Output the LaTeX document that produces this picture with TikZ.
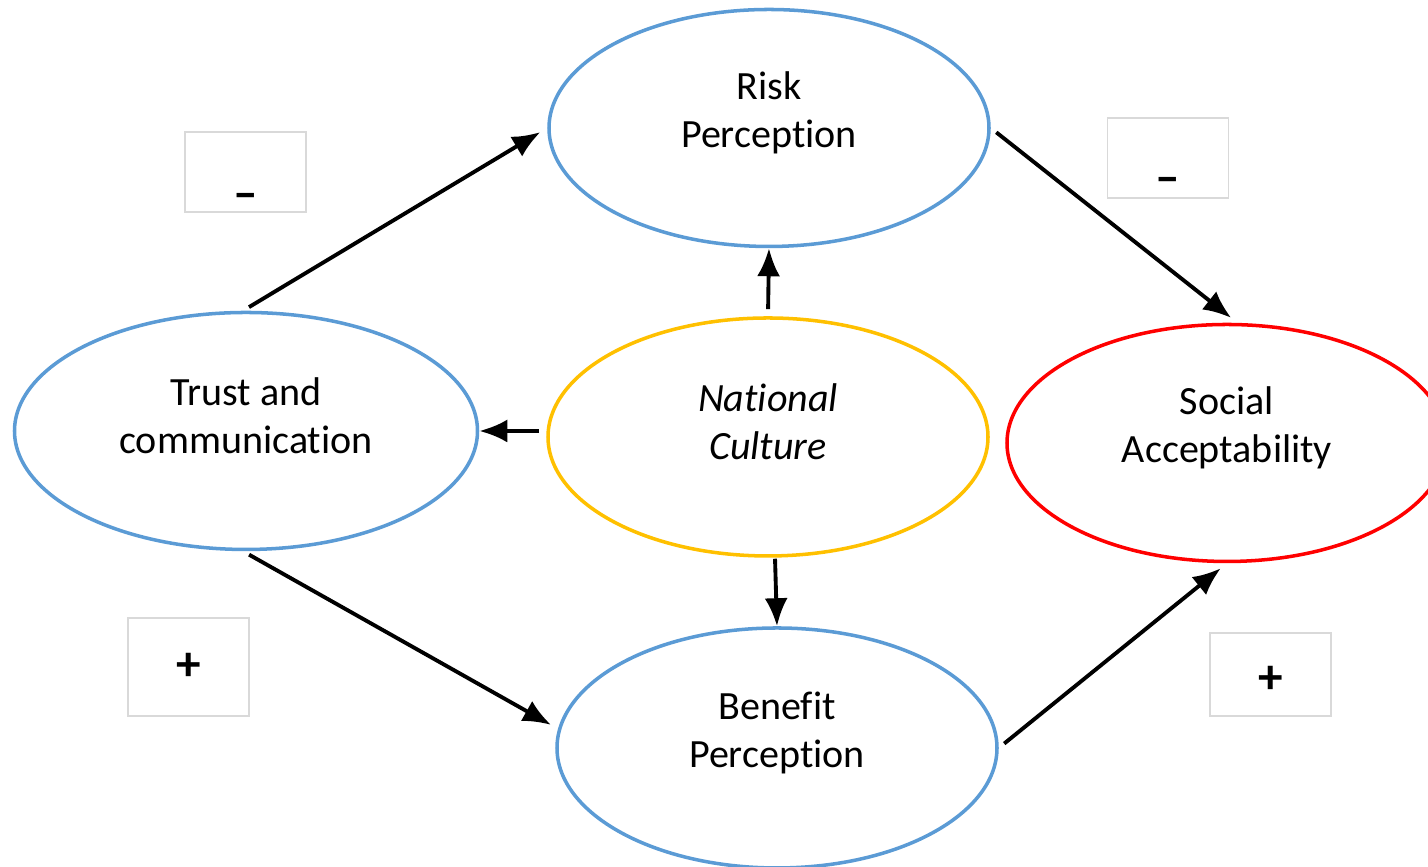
\documentclass[tikz,border=0pt]{standalone}
\usepackage{fontspec}
\setmainfont{Carlito}[Ligatures=NoCommon]
\usetikzlibrary{shapes.geometric,arrows.meta}
\definecolor{ovalblue}{HTML}{5B9BD5}
\definecolor{ovalgold}{HTML}{FFC000}

\begin{document}
\begin{tikzpicture}[bubble/.style={ellipse,draw=ovalblue,line width=1pt,inner sep=0pt,minimum width=4.4cm,minimum height=2.37cm},txt/.style={align=center,font=\fontsize{11.4}{13.7}\selectfont},signbox/.style={draw=black!15,fill=white,inner sep=0pt,minimum width=1.21cm},sign/.style={font=\fontsize{14}{16}\selectfont\bfseries},link/.style={-{Latex[length=2.8mm,width=2.3mm]},line width=1.1pt,shorten >=0.8mm,shorten <=0.7mm}]
\clip (0,0) rectangle (14.28,8.67);
\node[bubble] (risk) at (7.69,7.39) {};
\node[bubble,minimum width=4.63cm] (trust) at (2.46,4.36) {};
\node[bubble,draw=ovalgold,minimum height=2.38cm] (nat) at (7.68,4.30) {};
\node[bubble,draw=red] (social) at (12.27,4.24) {};
\node[bubble,minimum height=2.4cm] (benefit) at (7.77,1.19) {};
\node[txt] (risktxt) at ([yshift=1.5mm]risk) {Risk\\Perception};
\node[txt] (trusttxt) at ([yshift=1.5mm]trust) {Trust and\\communication};
\node[txt,font=\fontsize{11.4}{13.7}\selectfont\itshape] (nattxt) at ([yshift=1.5mm]nat) {National\\Culture};
\node[txt] (socialtxt) at ([yshift=1.5mm]social) {Social\\Acceptability};
\node[txt] (benefittxt) at ([yshift=1.5mm]benefit) {Benefit\\Perception};
\node[signbox,minimum height=0.8cm] (m1) at (2.455,6.95) {};
\node[signbox,minimum height=0.8cm] (m2) at (11.68,7.09) {};
\node[signbox,minimum height=0.98cm] (p1) at (1.885,2.00) {};
\node[signbox,minimum height=0.83cm] (p2) at (12.705,1.925) {};
\node[sign] at ([yshift=-2.9mm]m1) {--};
\node[sign] at ([yshift=-2.7mm]m2) {--};
\node[sign] at (p1) {+};
\node[sign] at ([yshift=-0.5mm]p2) {+};
\draw[link] ([xshift=-0.3mm]trust.north) -- (risk.west);
\draw[link] (risk.east) -- (social.85);
\draw[link] ([xshift=-0.3mm]trust.south) -- (benefit.175);
\draw[link] (benefit.east) -- (social.south);
\draw[link,shorten >=0pt] (nat.north) -- (risk.south);
\draw[link,shorten >=0pt] (nat.west |- trust.east) -- (trust.east);
\draw[link,shorten >=0pt,shorten <=0.1mm] ([xshift=0.7mm]nat.south) -- (benefit.north);
\end{tikzpicture}
\end{document}
